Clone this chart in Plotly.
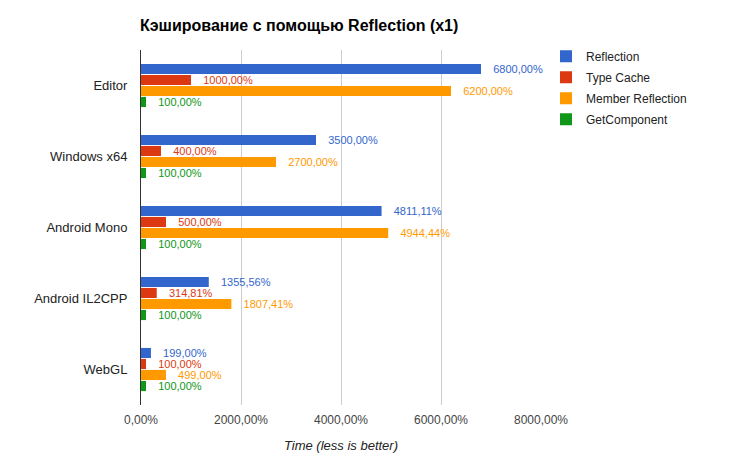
import plotly.graph_objects as go

platforms = ["Editor", "Windows x64", "Android Mono", "Android IL2CPP", "WebGL"]
reflection = [6800.00, 3500.00, 4811.11, 1355.56, 199.00]
type_cache = [1000.00, 400.00, 500.00, 314.81, 100.00]
member_reflection = [6200.00, 2700.00, 4944.44, 1807.41, 499.00]
get_component = [100.00, 100.00, 100.00, 100.00, 100.00]

x_ticks = [0, 2000, 4000, 6000, 8000]
x_tick_labels = ["0,00%", "2000,00%", "4000,00%", "6000,00%", "8000,00%"]

series = [
    ("Reflection", reflection, "#3366cc"),
    ("Type Cache", type_cache, "#dc3912"),
    ("Member Reflection", member_reflection, "#ff9900"),
    ("GetComponent", get_component, "#109618"),
]


def fmt(v):
    return "\u00a0\u00a0\u00a0" + f"{v:.2f}".replace(".", ",") + "%"


fig = go.Figure()
for name, vals, color in series:
    fig.add_bar(
        y=platforms,
        x=vals,
        name=name,
        legendgroup=name,
        orientation="h",
        marker=dict(color=color, line_width=0),
        text=[fmt(v) for v in vals],
        textposition="outside",
        constraintext="none",
        textfont=dict(color=color, size=11, family="Liberation Sans"),
        cliponaxis=False,
    )

# the page body adds an 8px offset, so everything is placed 8px up/left
fig.update_layout(
    width=738,
    height=464,
    barmode="group",
    bargap=0.38,
    bargroupgap=0.08,
    plot_bgcolor="white",
    paper_bgcolor="white",
    font=dict(family="Liberation Sans", size=12, color="#222222"),
    margin=dict(l=133, r=205, t=42, b=67, autoexpand=False),
    title=dict(
        text="<b>Кэширование с помощью Reflection (x1)</b>",
        x=132 / 738,
        xanchor="left",
        y=1 - 17 / 464,
        yanchor="middle",
        font=dict(size=16, color="#000000"),
    ),
    legend=dict(
        x=1.0125,
        y=1.023,
        xanchor="left",
        yanchor="top",
        font=dict(size=12, color="#222222"),
        itemwidth=30,
        tracegroupgap=2,
    ),
)

fig.update_xaxes(
    range=[0, 8000],
    tickvals=x_ticks,
    ticktext=x_tick_labels,
    tickfont=dict(size=12, color="#444444"),
    showgrid=True,
    gridcolor="#cccccc",
    gridwidth=1,
    zeroline=False,
    showline=False,
    ticks="",
    ticklabelstandoff=6,
    automargin=False,
    title=dict(
        text="<i>Time (less is better)</i>",
        font=dict(size=13, color="#222222"),
        standoff=14,
    ),
)
fig.update_yaxes(
    autorange="reversed",
    tickfont=dict(size=13, color="#222222"),
    showgrid=False,
    showline=True,
    linecolor="#333333",
    linewidth=1,
    ticks="",
    ticklabelstandoff=10,
    automargin=False,
)

fig.write_html("out.html")
